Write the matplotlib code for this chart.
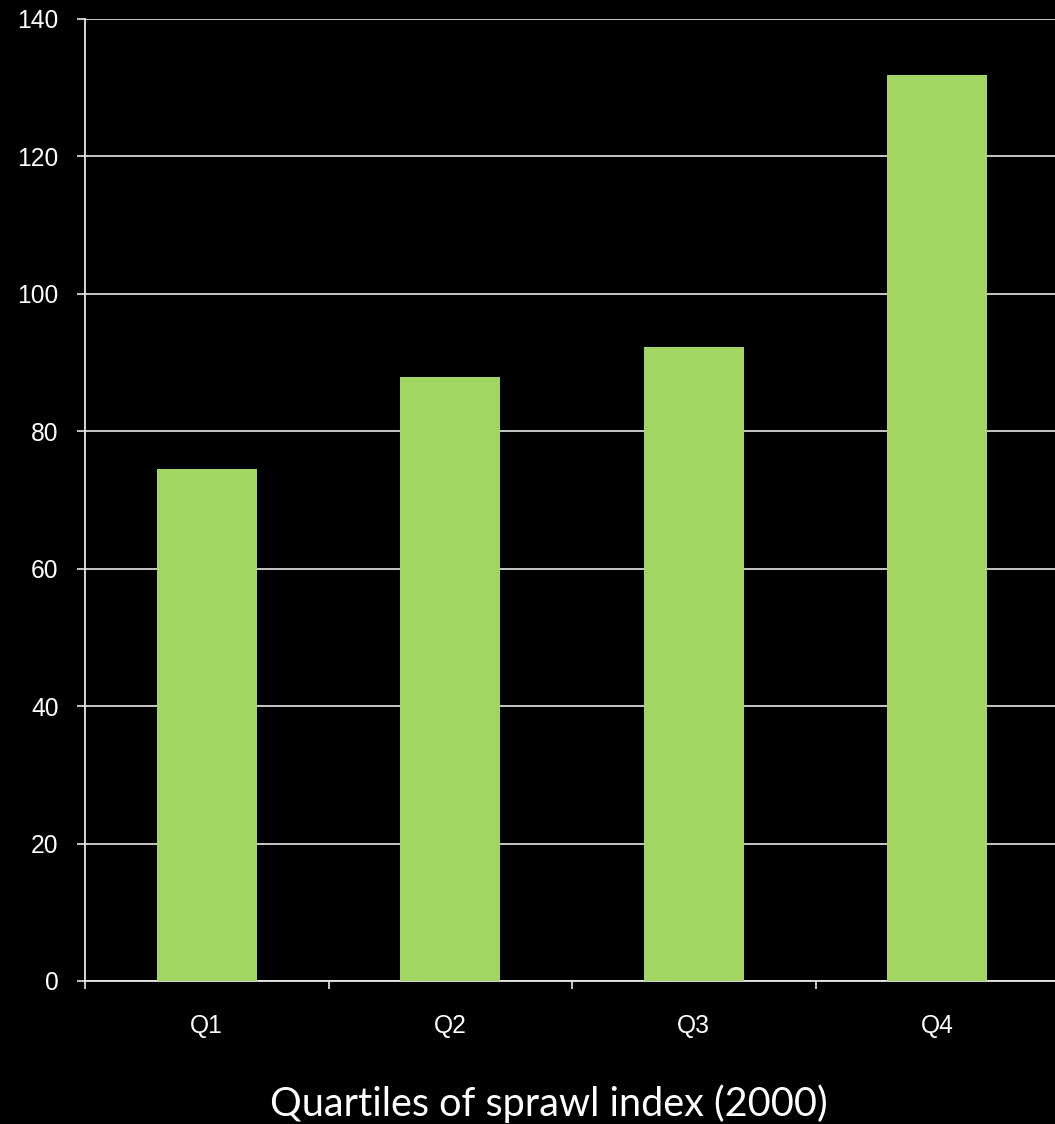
import matplotlib.pyplot as plt

plt.rcParams["font.family"] = ["Liberation Sans", "DejaVu Sans"]

categories = ["Q1", "Q2", "Q3", "Q4"]
values = [74.5, 87.9, 92.3, 131.8]
yticks = [0, 20, 40, 60, 80, 100, 120, 140]

BAR_COLOR = "#A3D563"
LINE_COLOR = "#E8E8E8"

fig = plt.figure(figsize=(10.55, 11.24), dpi=100, facecolor="black")
ax = fig.add_axes([85 / 1055, 1 - 981 / 1124, 974 / 1055, 962 / 1124])
ax.set_facecolor("black")

x = range(len(categories))
ax.bar(x, values, width=0.41, color=BAR_COLOR, zorder=3)

ax.set_xlim(-0.5, len(categories) - 0.5)
ax.set_ylim(0, 140)
ax.set_yticks(yticks)
# category boundaries get the tick marks, centres get the labels
ax.set_xticks([i - 0.5 for i in range(len(categories) + 1)])
ax.set_xticklabels([""] * (len(categories) + 1))
ax.set_xticks(list(x), minor=True)
ax.set_xticklabels(categories, minor=True)

ax.yaxis.grid(True, color=LINE_COLOR, linewidth=1.2, zorder=0)
ax.set_axisbelow(True)

for side in ["top", "right"]:
    ax.spines[side].set_visible(False)
for side in ["left", "bottom"]:
    ax.spines[side].set_color(LINE_COLOR)
    ax.spines[side].set_linewidth(1.3)

ax.tick_params(axis="y", which="major", colors=LINE_COLOR, length=6, width=1.2,
               pad=13, labelsize=17.7, labelcolor="white")
ax.tick_params(axis="x", which="major", colors=LINE_COLOR, length=6, width=1.2)
ax.tick_params(axis="x", which="minor", length=0, pad=24, labelsize=17.7,
               labelcolor="white")

fig.text(549 / 1055, 1 - 1104 / 1124, "Quartiles of sprawl index (2000)",
         ha="center", va="center", color="white", fontsize=28.5, family="Lato")

fig.savefig("out.png", dpi=100, facecolor="black")
